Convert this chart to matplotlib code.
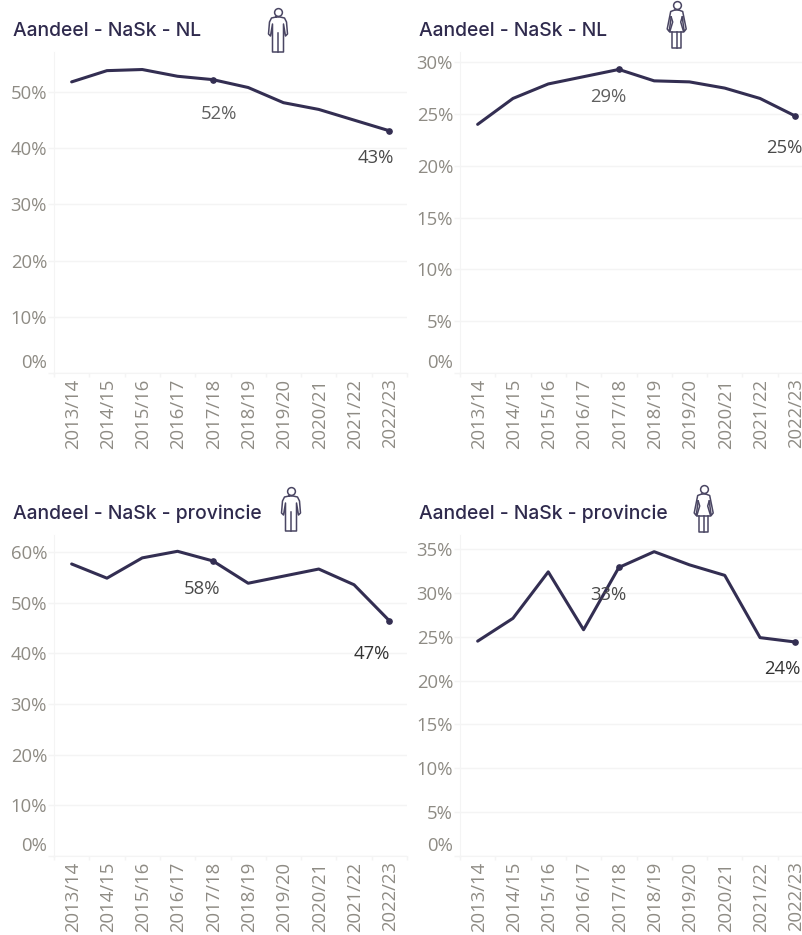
import matplotlib
matplotlib.use('Agg')
import matplotlib.pyplot as plt
from matplotlib.lines import Line2D
from matplotlib.transforms import ScaledTranslation

W, H = 802, 935
LINE = '#332e52'
TICK = '#8e8b84'
GRID = '#f4f4f4'

jaren = ['2013/14', '2014/15', '2015/16', '2016/17', '2017/18',
         '2018/19', '2019/20', '2020/21', '2021/22', '2022/23']

# waarden (%)
nl_man = [51.8, 53.8, 54.0, 52.8, 52.2, 50.8, 48.1, 46.9, 45.0, 43.1]
nl_vrouw = [24.0, 26.5, 27.9, 28.6, 29.3, 28.2, 28.1, 27.5, 26.5, 24.8]
prov_man = [57.6, 54.8, 58.8, 60.1, 58.2, 53.8, 55.2, 56.6, 53.5, 46.4]
prov_vrouw = [24.5, 27.1, 32.4, 25.8, 32.9, 34.7, 33.2, 32.0, 24.9, 24.4]

ticks_man = [0, 10, 20, 30, 40, 50]
ticks_man_prov = [0, 10, 20, 30, 40, 50, 60]
ticks_vrouw = [0, 5, 10, 15, 20, 25, 30]
ticks_vrouw_prov = [0, 5, 10, 15, 20, 25, 30, 35]

fig = plt.figure(figsize=(W / 100, H / 100), dpi=100)


def fx(x):
    return x / W


def fy(y):
    return 1 - y / H


def person(cx, head_y, female=False):
    # icoontje van een persoon, in pixels vanaf het hoofd
    if female:
        parts = [
            [(-2, 5), (-6, 6.5), (-9.5, 24), (-7.5, 26.5), (-5.5, 12)],
            [(2, 5), (6, 6.5), (9.5, 24), (7.5, 26.5), (5.5, 12)],
            [(-2, 5), (2, 5)],
            [(-5.5, 12), (-4, 17), (-7, 27), (7, 27), (4, 17), (5.5, 12)],
            [(-4.5, 27), (-4.5, 43), (4.5, 43), (4.5, 27)],
            [(0, 27), (0, 43)],
        ]
    else:
        parts = [
            [(-2, 5), (-6.5, 6), (-8.5, 10), (-9.5, 22), (-7.5, 24), (-5.5, 12), (-5.5, 40),
             (5.5, 40), (5.5, 12), (7.5, 24), (9.5, 22), (8.5, 10), (6.5, 6), (2, 5), (-2, 5)],
            [(0, 21), (0, 40)],
        ]
    for part in parts:
        xs = [fx(cx + p[0]) for p in part]
        ys = [fy(head_y + p[1]) for p in part]
        fig.add_artist(Line2D(xs, ys, color='#4a4663', lw=1.1))
    fig.add_artist(Line2D([fx(cx)], [fy(head_y)], marker='o', ms=5.6, mfc='white',
                          mec='#4a4663', mew=1.1, ls='none'))


def panel(left, bottom, top, per_tick, step, waarden, ticks, titel, title_y,
          label_kleur, lab1, lab2):
    # as in pixels van de figuur, laatste panelen lopen iets buiten beeld
    ax = fig.add_axes([fx(left), fy(bottom), 353 / W, (bottom - top) / H])
    ax.plot(range(10), waarden, color=LINE, lw=2.2, solid_capstyle='round', solid_joinstyle='round')
    ax.plot([4, 9], [waarden[4], waarden[9]], 'o', color=LINE, ms=3.8)
    ax.set_xlim(-0.5, 9.5)
    ax.set_ylim(0, (bottom - top) / per_tick * step)

    ax.set_xticks(range(10))
    ax.set_xticklabels(jaren, rotation=90, fontsize=13.3, color=TICK, family='Open Sans')
    ax.tick_params(axis='x', which='major', length=0, pad=4)
    for lbl in ax.get_xticklabels():
        lbl.set_transform(lbl.get_transform() + ScaledTranslation(1 / 100, 0, fig.dpi_scale_trans))
    ax.set_xticks([i - 0.5 for i in range(11)], minor=True)
    ax.tick_params(axis='x', which='minor', length=3, color=GRID, width=1)

    ax.set_yticks(ticks)
    ax.set_yticklabels([f'{t}%' for t in ticks], fontsize=13.3, color=TICK, family='Open Sans')
    ax.tick_params(axis='y', length=4, color=GRID, width=1, pad=1)
    for lbl, t in zip(ax.get_yticklabels(), ticks):
        if t == 0:
            lbl.set_transform(lbl.get_transform() + ScaledTranslation(0, 12 / 100, fig.dpi_scale_trans))
    ax.yaxis.grid(True, color=GRID, lw=1)
    ax.set_axisbelow(True)
    for s in ['top', 'right']:
        ax.spines[s].set_visible(False)
    ax.spines['left'].set_color(GRID)
    ax.spines['bottom'].set_color(GRID)

    ax.annotate(lab1[0], (4, waarden[4]), xytext=lab1[1], textcoords='offset pixels',
                ha='center', va='center', fontsize=13.3, color=label_kleur[0], family='Open Sans')
    ax.annotate(lab2[0], (9, waarden[9]), xytext=lab2[1], textcoords='offset pixels',
                ha='center', va='center', fontsize=13.3, color=label_kleur[1], family='Open Sans',
                annotation_clip=False)
    fig.text(fx(left - 41), fy(title_y + 1.5), titel, fontsize=13.9, color='#2f2a4d', family='Inter',
             fontweight='medium', ha='left', va='center')


panel(54, 373, 52, 56.2, 10, nl_man, ticks_man, 'Aandeel - NaSk - NL', 29,
      ('#5f5f5f', '#4a4a4a'), ('52%', (6, -34)), ('43%', (-14, -27)))
panel(460, 373, 52, 51.8, 5, nl_vrouw, ticks_vrouw, 'Aandeel - NaSk - NL', 29,
      ('#5f5f5f', '#4a4a4a'), ('29%', (-11, -28)), ('25%', (-11, -32)))
panel(54, 856, 535, 50.7, 10, prov_man, ticks_man_prov, 'Aandeel - NaSk - provincie', 512,
      ('#4a4a4a', '#333333'), ('58%', (-11, -28)), ('47%', (-18, -33)))
panel(460, 856, 535, 43.85, 5, prov_vrouw, ticks_vrouw_prov, 'Aandeel - NaSk - provincie', 512,
      ('#4a4a4a', '#333333'), ('33%', (-11, -28)), ('24%', (-13, -27)))

person(278, 12)
person(676.7, 5, female=True)
person(291, 491)
person(703.7, 489, female=True)

fig.savefig('out.png', dpi=100)
